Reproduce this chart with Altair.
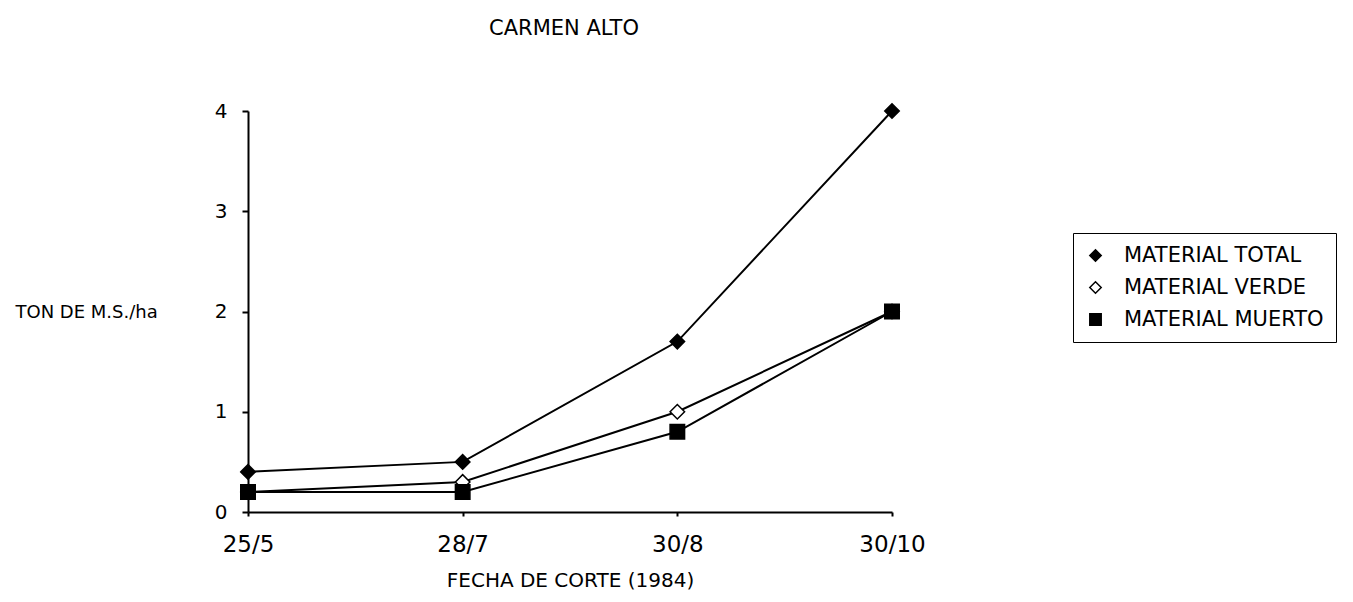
import altair as alt
import pandas as pd

fechas = ["25/5", "28/7", "30/8", "30/10"]
total = [0.4, 0.5, 1.7, 4.0]
verde = [0.2, 0.3, 1.0, 2.0]
muerto = [0.2, 0.2, 0.8, 2.0]
series = ["MATERIAL TOTAL", "MATERIAL VERDE", "MATERIAL MUERTO"]

rows = []
for name, vals in zip(series, [total, verde, muerto]):
    for f, v in zip(fechas, vals):
        rows.append({"fecha": f, "valor": v, "serie": name})
df = pd.DataFrame(rows)

FONT = "DejaVu Sans"

x = alt.X("fecha:O", sort=fechas,
          scale=alt.Scale(type="point", padding=0, domain=fechas),
          axis=alt.Axis(title="FECHA DE CORTE (1984)", labelAngle=0,
                        labelFontSize=23, labelPadding=17, tickSize=4,
                        titleFontSize=20, titleFontWeight="normal",
                        titleY=68, titleBaseline="middle",
                        titleColor="black", labelColor="black",
                        domainColor="black", tickColor="black",
                        domainWidth=2, tickWidth=2))
y = alt.Y("valor:Q", scale=alt.Scale(domain=[0, 4], nice=False),
          axis=alt.Axis(title="TON DE M.S./ha", values=[0, 1, 2, 3, 4],
                        format="d", grid=False, labelFontSize=20,
                        labelPadding=15, tickSize=6,
                        titleAngle=0, titleX=-233, titleY=201,
                        titleAlign="left", titleBaseline="middle",
                        titleFontSize=18, titleFontWeight="normal",
                        titleColor="black", labelColor="black",
                        domainColor="black", tickColor="black",
                        domainWidth=2, tickWidth=2))

lines = alt.Chart(df).mark_line(color="black", strokeWidth=2).encode(
    x=x, y=y, detail="serie:N")

points = alt.Chart(df).mark_point(filled=False, strokeWidth=1.5,
                                  size=210, opacity=1).encode(
    x=x, y=y,
    shape=alt.Shape("serie:N", sort=series,
                    scale=alt.Scale(domain=series, range=["diamond", "diamond", "square"]),
                    legend=alt.Legend(title=None)),
    fill=alt.Fill("serie:N", sort=series,
                  scale=alt.Scale(domain=series, range=["black", "white", "black"]),
                  legend=alt.Legend(title=None)),
    stroke=alt.Stroke("serie:N", sort=series,
                      scale=alt.Scale(domain=series, range=["black", "black", "black"]),
                      legend=alt.Legend(title=None)),
    order=alt.Order("order:Q"),
).transform_calculate(order="indexof(['MATERIAL TOTAL','MATERIAL VERDE','MATERIAL MUERTO'], datum.serie)")

chart = alt.layer(lines, points).properties(
    width=644, height=401,
    title=alt.Title("CARMEN ALTO", fontSize=21, fontWeight="normal", font=FONT,
                    anchor="middle", offset=62, dx=-6, color="black"),
    autosize=alt.AutoSizeParams(type="none"),
    padding={"left": 240, "top": 103, "right": 453, "bottom": 90},
).configure(font=FONT).configure_view(stroke=None).configure_axis(
    labelFont=FONT, titleFont=FONT
).configure_legend(
    orient="none", legendX=825, legendY=122, strokeColor="black",
    padding=12, labelFontSize=21, labelFont=FONT, labelColor="black",
    symbolSize=130, symbolStrokeWidth=1.5,
    rowPadding=10, labelOffset=18, fillColor="white", labelLimit=400
)

chart.save("out.html", embed_options={"renderer": "svg", "actions": False})
